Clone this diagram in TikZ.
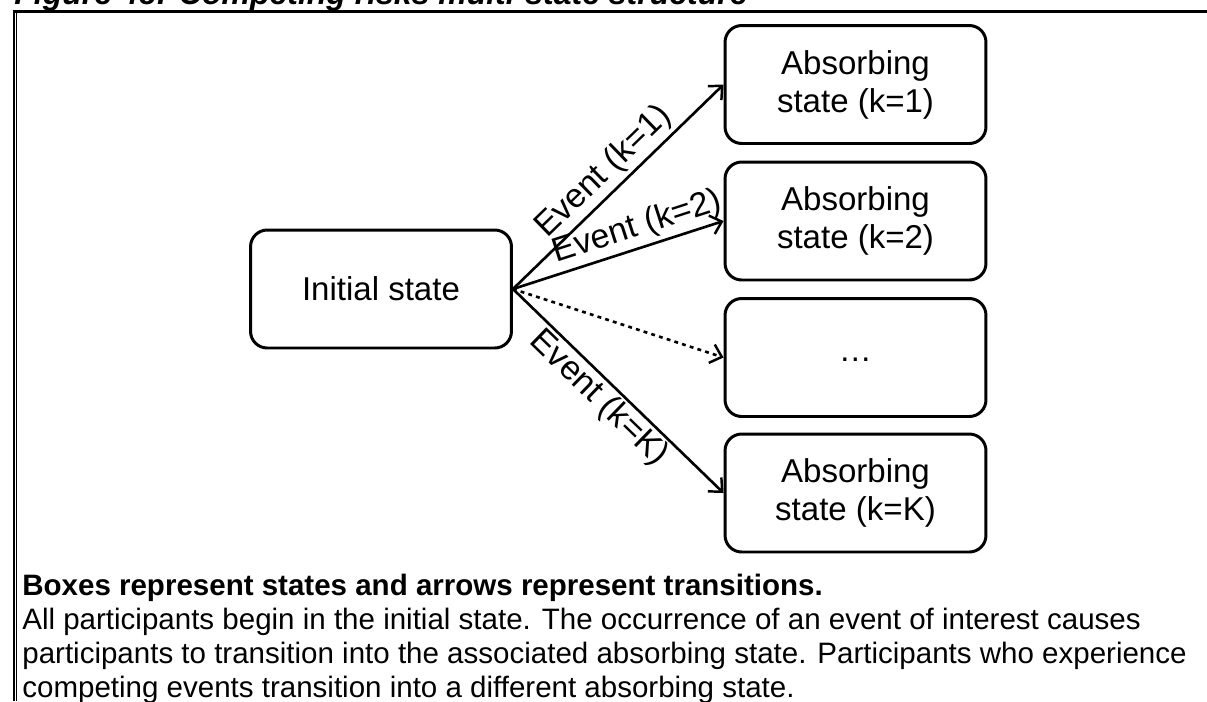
\documentclass[tikz,border=0pt]{standalone}
\usepackage{fontspec}
\setmainfont{Liberation Sans}
\usetikzlibrary{arrows.meta,positioning}

\begin{document}
\begin{tikzpicture}[
  x=0.02cm, y=-0.02cm,
  state/.style={draw, line width=1.7pt, rounded corners=9.5pt, align=center, font=\fontsize{18.8}{21.6}\selectfont, minimum width=5.22cm, minimum height=2.36cm, inner sep=0pt},
  event/.style={font=\fontsize{19.3}{22}\selectfont, sloped, inner sep=2pt},
  arrow/.style={-{Straight Barb[length=6pt,width=11pt,line width=1.4pt]}, line width=1.5pt},
  maybe/.style={arrow, dash pattern=on 2.2pt off 2.4pt}
]
\useasboundingbox (0,0) rectangle (1207,701);
\clip (0,0) rectangle (1207,701);

% Caption and frame
\node[anchor=base west, inner sep=0pt, font=\fontsize{18.2}{20}\selectfont\bfseries\itshape] (title) at (14,4) {Figure 4c: Competing risks multi-state structure};
\draw[line width=1.7pt] (12.5,11.5) -- (1207,11.5);
\draw[line width=1.15pt] (13.7,11) -- (13.7,701);
\draw[line width=0.8pt] (16.4,12) -- (16.4,701);

% States
\node[state] (init) at (381,289) {Initial state};
\node[state] (abs1) at (855.5,84.5) {Absorbing\\state (k=1)};
\node[state] (abs2) at (855.5,221) {Absorbing\\state (k=2)};
\node[state] (absdots) at (855.5,357.5) {\raisebox{-5pt}{…}};
\node[state] (absK) at (855.5,493) {Absorbing\\state (k=K)};

% Transitions
\draw[arrow] (init.east) -- node[event, above, pos=0.5] (ev1) {Event (k=1)} (abs1.west);
\draw[arrow] (init.east) -- node[event, above, pos=0.62] (ev2) {Event (k=2)} (abs2.west);
\draw[maybe] (init.east) -- (absdots.west);
\draw[arrow] (init.east) -- node[event, below, pos=0.47, inner sep=1pt] (evK) {Event (k=K)} (absK.west);

% Legend text
\node[anchor=north west, inner sep=0pt, align=left, font=\fontsize{16.8}{19.3}\selectfont] (note) at (22,574) {\textbf{Boxes represent states and arrows represent transitions.}\\
All participants begin in the initial state. The occurrence of an event of interest causes\\
participants to transition into the associated absorbing state. Participants who experience\\
competing events transition into a different absorbing state.};

\end{tikzpicture}
\end{document}
